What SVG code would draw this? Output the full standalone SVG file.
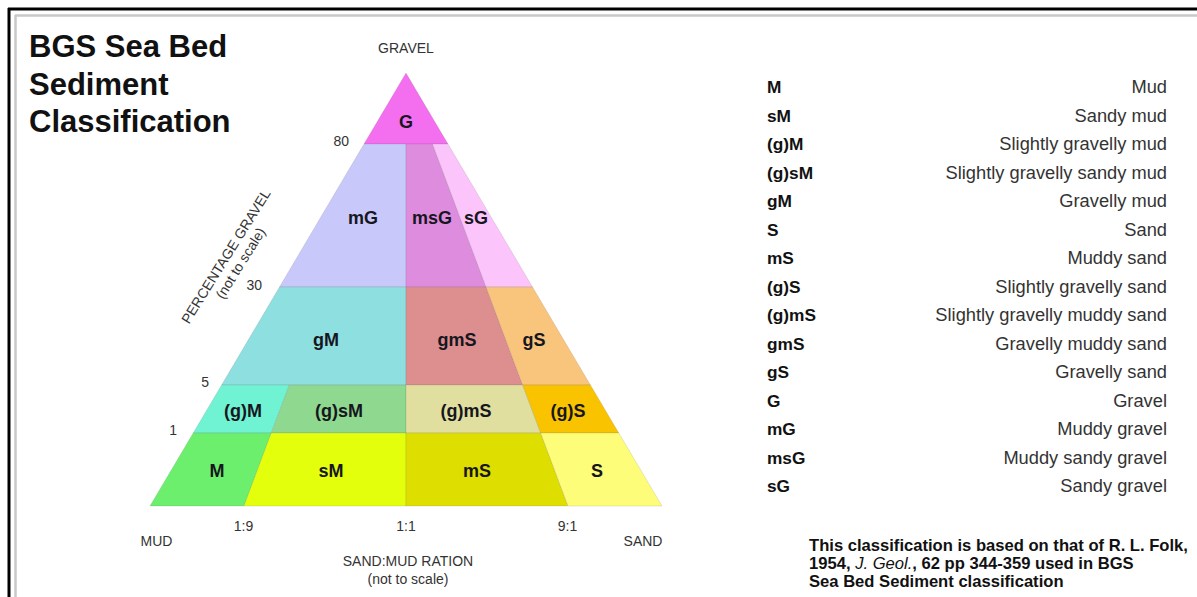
<svg xmlns="http://www.w3.org/2000/svg" width="1197" height="597" viewBox="0 0 1197 597">
<style>
.title{font-family:"Liberation Sans",Arial,sans-serif;font-weight:bold;font-size:31px;fill:#111}
.ax{font-family:"Liberation Sans",Arial,sans-serif;font-size:14px;fill:#333}
.lab{font-family:"Liberation Sans",Arial,sans-serif;font-weight:bold;font-size:18px;fill:#16161e;text-anchor:middle}
.code{font-family:"Liberation Sans",Arial,sans-serif;font-weight:bold;font-size:17.3px;fill:#111}
.desc{font-family:"Liberation Sans",Arial,sans-serif;font-size:18.3px;fill:#333;text-anchor:end}
.note{font-family:"Liberation Sans",Arial,sans-serif;font-weight:bold;font-size:16.6px;fill:#111}
.cell{stroke:rgba(90,90,90,0.18);stroke-width:0.8}
</style>
<rect x="0" y="0" width="1197" height="597" fill="#ffffff"/>
<g id="frame">
<line x1="8" y1="9" x2="1197" y2="9" stroke="#000" stroke-width="3"/>
<line x1="9" y1="8" x2="9" y2="597" stroke="#000" stroke-width="3"/>
<line x1="15" y1="15.5" x2="1197" y2="15.5" stroke="#c8c8c8" stroke-width="2.5"/>
<line x1="15.5" y1="15" x2="15.5" y2="597" stroke="#c8c8c8" stroke-width="2.5"/>
</g>
<g id="title">
<text class="title" x="29" y="57">BGS Sea Bed</text>
<text class="title" x="29" y="95">Sediment</text>
<text class="title" x="29" y="132">Classification</text>
</g>
<g id="triangle">
<g id="G"><polygon class="cell" fill="#f46ef0" points="406,73 448,144 364,144"/><text class="lab" x="406" y="128">G</text></g>
<g id="mG"><polygon class="cell" fill="#c9c8fa" points="364,144 406,144 406,287 279.5,287"/><text class="lab" x="363" y="224">mG</text></g>
<g id="msG"><polygon class="cell" fill="#de8cde" points="406,144 432.6,144 486.1,287 406,287"/><text class="lab" x="432" y="224">msG</text></g>
<g id="sG"><polygon class="cell" fill="#fbc4fa" points="432.6,144 448,144 532.5,287 486.1,287"/><text class="lab" x="476" y="224">sG</text></g>
<g id="gM"><polygon class="cell" fill="#8edfe0" points="279.5,287 406,287 406,385 221.6,385"/><text class="lab" x="326" y="346">gM</text></g>
<g id="gmS"><polygon class="cell" fill="#dd8e8e" points="406,287 486.1,287 522.7,385 406,385"/><text class="lab" x="457" y="346">gmS</text></g>
<g id="gS"><polygon class="cell" fill="#f9c47c" points="486.1,287 532.5,287 590.4,385 522.7,385"/><text class="lab" x="534" y="346">gS</text></g>
<g id="gM-slight"><polygon class="cell" fill="#70f3d2" points="221.6,385 289.3,385 271.3,433 193.2,433"/><text class="lab" x="243" y="417">(g)M</text></g>
<g id="gsM-slight"><polygon class="cell" fill="#8fd88f" points="289.3,385 406,385 406,433 271.3,433"/><text class="lab" x="339" y="417">(g)sM</text></g>
<g id="gmS-slight"><polygon class="cell" fill="#e0df9f" points="406,385 522.7,385 540.7,433 406,433"/><text class="lab" x="466" y="417">(g)mS</text></g>
<g id="gS-slight"><polygon class="cell" fill="#f9c300" points="522.7,385 590.4,385 618.8,433 540.7,433"/><text class="lab" x="568" y="417">(g)S</text></g>
<g id="M"><polygon class="cell" fill="#6cef6c" points="193.2,433 271.3,433 244,506 150,506"/><text class="lab" x="217" y="477">M</text></g>
<g id="sM"><polygon class="cell" fill="#e4ff0c" points="271.3,433 406,433 406,506 244,506"/><text class="lab" x="331" y="477">sM</text></g>
<g id="mS"><polygon class="cell" fill="#dede00" points="406,433 540.7,433 568,506 406,506"/><text class="lab" x="477" y="477">mS</text></g>
<g id="S"><polygon class="cell" fill="#fdfd7a" points="540.7,433 618.8,433 662,506 568,506"/><text class="lab" x="597" y="477">S</text></g>
</g>
<g id="axes">
<text class="ax" x="406" y="53" text-anchor="middle">GRAVEL</text>
<text class="ax" x="349" y="146" text-anchor="end">80</text>
<text class="ax" x="262" y="290" text-anchor="end">30</text>
<text class="ax" x="209" y="387" text-anchor="end">5</text>
<text class="ax" x="177" y="435" text-anchor="end">1</text>
<g transform="translate(230,259) rotate(-58)">
<text class="ax" x="0" y="0" text-anchor="middle">PERCENTAGE GRAVEL</text>
<text class="ax" x="2" y="16" text-anchor="middle">(not to scale)</text>
</g>
<text class="ax" x="243.5" y="531" text-anchor="middle">1:9</text>
<text class="ax" x="406" y="531" text-anchor="middle">1:1</text>
<text class="ax" x="567.5" y="531" text-anchor="middle">9:1</text>
<text class="ax" x="156.5" y="546" text-anchor="middle">MUD</text>
<text class="ax" x="643" y="546" text-anchor="middle">SAND</text>
<text class="ax" x="408" y="566" text-anchor="middle">SAND:MUD RATION</text>
<text class="ax" x="408" y="584" text-anchor="middle">(not to scale)</text>
</g>
<g id="legend">
<text class="code" x="767" y="93">M</text><text class="desc" x="1167" y="93">Mud</text>
<text class="code" x="767" y="121.5">sM</text><text class="desc" x="1167" y="121.5">Sandy mud</text>
<text class="code" x="767" y="150">(g)M</text><text class="desc" x="1167" y="150">Slightly gravelly mud</text>
<text class="code" x="767" y="178.5">(g)sM</text><text class="desc" x="1167" y="178.5">Slightly gravelly sandy mud</text>
<text class="code" x="767" y="207">gM</text><text class="desc" x="1167" y="207">Gravelly mud</text>
<text class="code" x="767" y="235.5">S</text><text class="desc" x="1167" y="235.5">Sand</text>
<text class="code" x="767" y="264">mS</text><text class="desc" x="1167" y="264">Muddy sand</text>
<text class="code" x="767" y="292.5">(g)S</text><text class="desc" x="1167" y="292.5">Slightly gravelly sand</text>
<text class="code" x="767" y="321">(g)mS</text><text class="desc" x="1167" y="321">Slightly gravelly muddy sand</text>
<text class="code" x="767" y="349.5">gmS</text><text class="desc" x="1167" y="349.5">Gravelly muddy sand</text>
<text class="code" x="767" y="378">gS</text><text class="desc" x="1167" y="378">Gravelly sand</text>
<text class="code" x="767" y="406.5">G</text><text class="desc" x="1167" y="406.5">Gravel</text>
<text class="code" x="767" y="435">mG</text><text class="desc" x="1167" y="435">Muddy gravel</text>
<text class="code" x="767" y="463.5">msG</text><text class="desc" x="1167" y="463.5">Muddy sandy gravel</text>
<text class="code" x="767" y="492">sG</text><text class="desc" x="1167" y="492">Sandy gravel</text>
</g>
<g id="note">
<text class="note" x="809" y="551">This classification is based on that of R. L. Folk,</text>
<text class="note" x="809" y="569">1954, <tspan font-style="italic" font-weight="normal">J. Geol.</tspan>, 62 pp 344-359 used in BGS</text>
<text class="note" x="809" y="587">Sea Bed Sediment classification</text>
</g>
</svg>
